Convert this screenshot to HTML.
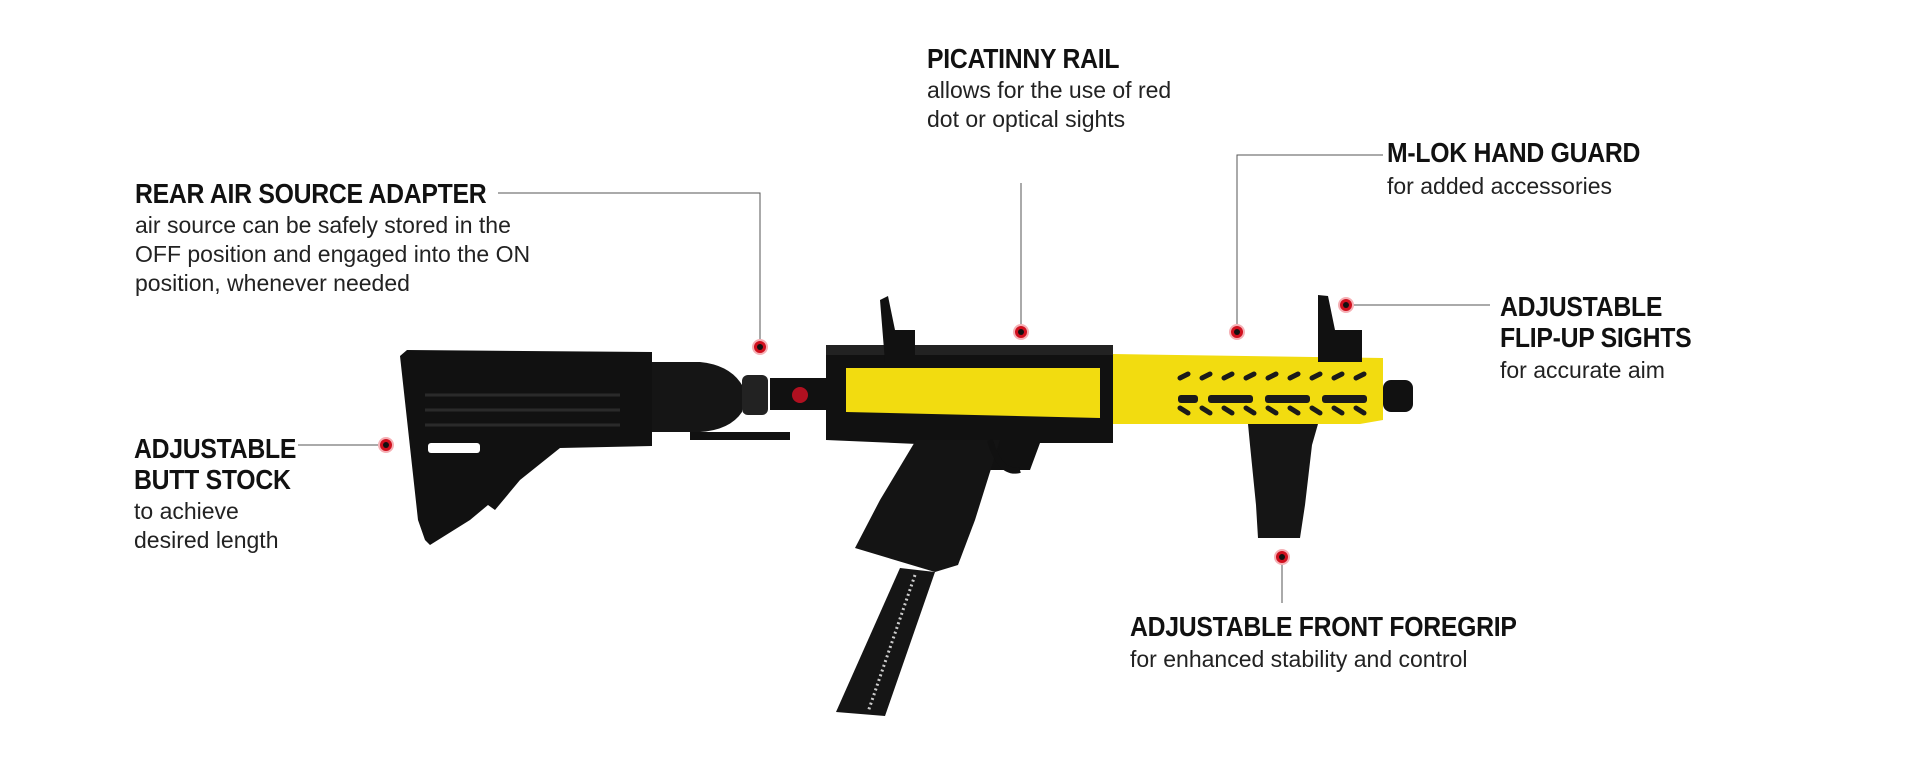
<!DOCTYPE html>
<html><head><meta charset="utf-8">
<style>
html,body{margin:0;padding:0;background:#fff;}
#c{position:relative;width:1928px;height:784px;overflow:hidden;background:#fff;}
.t{position:absolute;font-family:"Liberation Sans",sans-serif;font-weight:bold;font-size:28px;line-height:31px;color:#111;letter-spacing:-0.3px;white-space:nowrap;transform:scaleX(0.885);transform-origin:0 0;}
.b{position:absolute;font-family:"Liberation Sans",sans-serif;font-size:23px;line-height:29px;color:#222;white-space:nowrap;}
svg{position:absolute;left:0;top:0;}
</style></head><body><div id="c">
<svg width="1928" height="784" viewBox="0 0 1928 784">
<g stroke="#555" stroke-width="1" fill="none">
<polyline points="498,193 760,193 760,340"/>
<line x1="298" y1="445" x2="378" y2="445"/>
<line x1="1021" y1="183" x2="1021" y2="325"/>
<polyline points="1383,155 1237,155 1237,325"/>
<line x1="1353" y1="305" x2="1490" y2="305"/>
<line x1="1282" y1="564" x2="1282" y2="603"/>
</g>
<!-- stock -->
<path d="M400,356 L407,350 L652,352 L652,446 L560,448 L520,480 L495,510 L488,505 L470,520 L430,545 L425,540 L418,520 Z" fill="#111"/>
<path d="M425,395 L620,395 M425,410 L620,410 M425,425 L620,425" stroke="#2a2a2a" stroke-width="3"/>
<rect x="428" y="443" width="52" height="10" rx="3" fill="#fff"/>
<!-- air bottle -->
<path d="M652,362 L700,362 Q730,365 742,385 L742,412 Q730,430 700,432 L652,432 Z" fill="#151515"/>
<rect x="742" y="375" width="26" height="40" rx="6" fill="#222"/>
<rect x="770" y="378" width="60" height="32" fill="#111"/>
<circle cx="800" cy="395" r="8" fill="#b01020"/>
<path d="M690,432 L790,432 L790,440 L690,440 Z" fill="#111"/>
<!-- receiver -->
<path d="M826,352 L1113,352 L1113,443 L1040,443 L1030,470 L960,470 L940,445 L826,440 Z" fill="#111"/>
<rect x="826" y="345" width="287" height="10" fill="#222"/>
<path d="M846,368 L1100,368 L1100,418 L846,412 Z" fill="#f2dc10"/>
<!-- handguard -->
<path d="M1113,354 L1383,358 L1383,420 L1360,424 L1113,424 Z" fill="#f2dc10"/>
<g fill="#1a1a1a">
<rect x="1178" y="395" width="20" height="8" rx="3"/>
<rect x="1208" y="395" width="45" height="8" rx="3"/>
<rect x="1265" y="395" width="45" height="8" rx="3"/>
<rect x="1322" y="395" width="45" height="8" rx="3"/>
</g>
<g stroke="#1a1a1a" stroke-width="5" stroke-linecap="round">
<path d="M1180,378 l8,-4 M1202,378 l8,-4 M1224,378 l8,-4 M1246,378 l8,-4 M1268,378 l8,-4 M1290,378 l8,-4 M1312,378 l8,-4 M1334,378 l8,-4 M1356,378 l8,-4"/>
<path d="M1180,408 l8,5 M1202,408 l8,5 M1224,408 l8,5 M1246,408 l8,5 M1268,408 l8,5 M1290,408 l8,5 M1312,408 l8,5 M1334,408 l8,5 M1356,408 l8,5"/>
</g>
<!-- barrel -->
<rect x="1383" y="380" width="30" height="32" rx="8" fill="#111"/>
<!-- sights -->
<path d="M880,300 L888,296 L895,330 L915,330 L915,362 L885,362 Z" fill="#111"/>
<path d="M1318,295 L1328,296 L1335,330 L1362,330 L1362,362 L1318,362 Z" fill="#111"/>
<!-- pistol grip -->
<path d="M916,440 L1000,440 L975,520 L958,565 L935,572 L855,548 L880,500 Z" fill="#141414"/>
<!-- magazine -->
<path d="M900,568 L935,572 L885,716 L836,712 Z" fill="#151515"/>
<path d="M915,575 L868,712" stroke="#ccc" stroke-width="3" stroke-dasharray="2,3"/>
<!-- trigger guard -->
<path d="M990,440 Q1000,475 1020,470" stroke="#111" stroke-width="6" fill="none"/>
<!-- foregrip -->
<path d="M1248,424 L1318,424 L1312,445 L1305,505 L1300,538 L1258,538 L1256,505 L1250,445 Z" fill="#151515"/>
<!-- dots -->
<g fill="#d0101e" stroke="#f5b0b5" stroke-width="2">
<circle cx="760" cy="347" r="7"/>
<circle cx="386" cy="445" r="7"/>
<circle cx="1021" cy="332" r="7"/>
<circle cx="1237" cy="332" r="7"/>
<circle cx="1346" cy="305" r="7"/>
<circle cx="1282" cy="557" r="7"/>
</g>
<g fill="#111"><circle cx="760" cy="347" r="3"/><circle cx="386" cy="445" r="3"/><circle cx="1021" cy="332" r="3"/><circle cx="1237" cy="332" r="3"/><circle cx="1346" cy="305" r="3"/><circle cx="1282" cy="557" r="3"/></g>
</svg>

<div class="t" style="left:927px;top:43px;">PICATINNY RAIL</div>
<div class="b" style="left:927px;top:76px;">allows for the use of red<br>dot or optical sights</div>

<div class="t" style="left:135px;top:178px;">REAR AIR SOURCE ADAPTER</div>
<div class="b" style="left:135px;top:211px;">air source can be safely stored in the<br>OFF position and engaged into the ON<br>position, whenever needed</div>

<div class="t" style="left:134px;top:433px;">ADJUSTABLE<br>BUTT STOCK</div>
<div class="b" style="left:134px;top:497px;">to achieve<br>desired length</div>

<div class="t" style="left:1387px;top:137px;">M-LOK HAND GUARD</div>
<div class="b" style="left:1387px;top:172px;">for added accessories</div>

<div class="t" style="left:1500px;top:291px;">ADJUSTABLE<br>FLIP-UP SIGHTS</div>
<div class="b" style="left:1500px;top:356px;">for accurate aim</div>

<div class="t" style="left:1130px;top:611px;">ADJUSTABLE FRONT FOREGRIP</div>
<div class="b" style="left:1130px;top:645px;">for enhanced stability and control</div>
</div></body></html>
